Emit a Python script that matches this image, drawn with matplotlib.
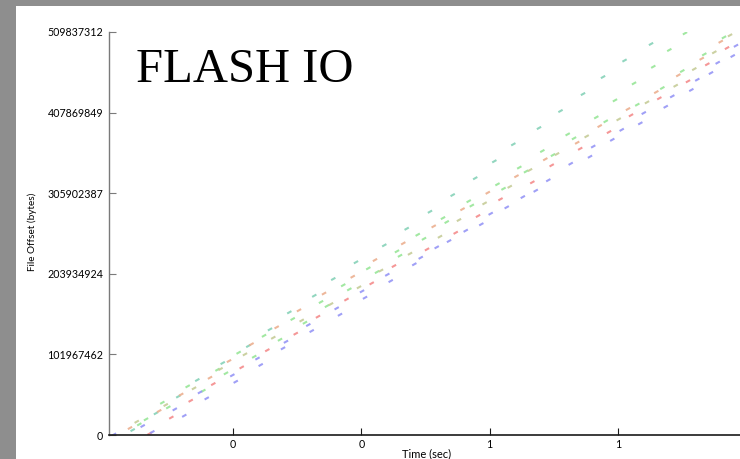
import numpy as np
import matplotlib
matplotlib.use("Agg")
import matplotlib.pyplot as plt
from matplotlib.collections import LineCollection
from matplotlib.patches import Rectangle

# ---------------- data (time in s, file offset in bytes) ----------------
teal_t = [0.8514, 0.8101, 0.7766, 0.7454, 0.7103, 0.6768, 0.6368, 0.6072, 0.5774, 0.5423,
          0.5069, 0.4706, 0.4357, 0.3916, 0.3562, 0.3266, 0.2877, 0.2576, 0.2238, 0.1839,
          0.1443, 0.1147, 0.0799, 0.0436]
teal_off = [494.7e6, 473.8e6, 452.9e6, 431.4e6, 409.9e6, 388.4e6, 367.8e6, 346.3e6, 324.9e6, 303.6e6,
            282.5e6, 261.0e6, 240.0e6, 218.6e6, 197.4e6, 176.2e6, 155.2e6, 133.7e6, 112.6e6, 91.1e6,
            69.6e6, 48.7e6, 27.5e6, 6.3e6]

green_t = [0.9043, 0.9651, 0.8799, 0.9344, 0.8549, 0.9001, 0.8249, 0.8690, 0.7952, 0.8300,
           0.7661, 0.7808, 0.7215, 0.7314, 0.6820, 0.6986, 0.6461, 0.6566, 0.6121, 0.6215,
           0.5673, 0.5721, 0.5272, 0.5330, 0.4878, 0.4976, 0.4555, 0.4602, 0.4108, 0.4244,
           0.3717, 0.3812, 0.3371, 0.3464, 0.2930, 0.3121, 0.2483, 0.2732, 0.2087, 0.2330,
           0.1758, 0.1890, 0.1293, 0.1537, 0.0898, 0.0991, 0.0644, 0.0539]
green_off = [508.2e6, 503.1e6, 487.1e6, 481.6e6, 465.9e6, 460.5e6, 444.9e6, 439.0e6, 423.4e6, 417.9e6,
             401.9e6, 396.9e6, 380.4e6, 375.4e6, 359.3e6, 354.2e6, 338.4e6, 333.4e6, 317.2e6, 311.6e6,
             295.8e6, 290.3e6, 274.5e6, 269.5e6, 253.4e6, 248.3e6, 232.4e6, 226.8e6, 210.9e6, 206.2e6,
             189.5e6, 184.3e6, 168.3e6, 163.2e6, 146.8e6, 142.1e6, 125.6e6, 120.6e6, 104.2e6, 99.1e6,
             82.6e6, 78.1e6, 61.6e6, 56.0e6, 40.9e6, 35.0e6, 19.9e6, 13.5e6]

olive_t = [0.9745, 0.9500, 0.9188, 0.8898, 0.8451, 0.8010, 0.7511, 0.7049, 0.6628, 0.6312,
           0.5920, 0.5521, 0.5225, 0.4758, 0.4306, 0.3963, 0.3527, 0.3070, 0.2627, 0.2186,
           0.1805, 0.1392, 0.0951, 0.0499]
olive_off = [505.7e6, 484.2e6, 463.0e6, 441.9e6, 420.9e6, 399.4e6, 377.9e6, 355.5e6, 335.3e6, 314.1e6,
             293.1e6, 272.0e6, 250.9e6, 229.4e6, 208.1e6, 186.9e6, 165.7e6, 144.9e6, 123.1e6, 102.1e6,
             83.5e6, 59.1e6, 38.0e6, 16.8e6]

orange_t = [0.9600, 0.9304, 0.8939, 0.8596, 0.8155, 0.7714, 0.7363, 0.6866, 0.6417, 0.5970,
            0.5576, 0.5127, 0.4653, 0.4212, 0.3865, 0.3418, 0.3028, 0.2680, 0.2288, 0.1937,
            0.1641, 0.1192, 0.0849, 0.0394]
orange_off = [497.6e6, 476.1e6, 455.1e6, 433.9e6, 412.4e6, 390.9e6, 369.8e6, 348.9e6, 327.4e6, 306.5e6,
              285.7e6, 264.0e6, 242.5e6, 221.4e6, 200.3e6, 179.0e6, 157.8e6, 136.3e6, 114.9e6, 93.6e6,
              72.5e6, 51.2e6, 30.4e6, 8.9e6]

red_t = [0.9698, 0.9391, 0.9090, 0.8643, 0.8202, 0.7859, 0.7410, 0.6966, 0.6664, 0.6168,
         0.5818, 0.5470, 0.5023, 0.4508, 0.4161, 0.3768, 0.3324, 0.2977, 0.2534, 0.2135,
         0.1692, 0.1340, 0.1038, 0.0700]
red_off = [489.6e6, 469.0e6, 447.5e6, 426.0e6, 404.5e6, 383.3e6, 362.2e6, 341.2e6, 319.7e6, 298.3e6,
           277.1e6, 255.9e6, 234.9e6, 213.8e6, 191.9e6, 171.4e6, 149.7e6, 128.2e6, 107.3e6, 85.6e6,
           64.5e6, 43.4e6, 22.1e6, 1.8e6]

blue_t = [0.9838, 0.9787, 0.9553, 0.9448, 0.9235, 0.9142, 0.8845, 0.8743, 0.8401, 0.8347,
          0.8057, 0.7910, 0.7613, 0.7563, 0.7262, 0.6913, 0.6717, 0.6516, 0.6265, 0.6015,
          0.5869, 0.5626, 0.5366, 0.5174, 0.4925, 0.4825, 0.4404, 0.4457, 0.4010, 0.4057,
          0.3615, 0.3667, 0.3173, 0.3226, 0.2825, 0.2779, 0.2381, 0.2431, 0.1989, 0.2042,
          0.1485, 0.1590, 0.1092, 0.1240, 0.0592, 0.0742, 0.0145]
blue_off = [492.5e6, 479.5e6, 471.0e6, 458.0e6, 449.5e6, 436.5e6, 428.5e6, 415.3e6, 407.4e6, 394.3e6,
            386.1e6, 373.5e6, 365.0e6, 352.1e6, 343.2e6, 322.3e6, 309.1e6, 301.1e6, 288.1e6, 280.0e6,
            266.6e6, 258.5e6, 245.4e6, 237.5e6, 224.3e6, 216.0e6, 202.8e6, 194.8e6, 181.8e6, 173.7e6,
            160.3e6, 152.2e6, 139.2e6, 131.6e6, 118.0e6, 109.7e6, 96.8e6, 88.6e6, 75.5e6, 67.4e6,
            54.0e6, 46.4e6, 32.5e6, 24.4e6, 11.4e6, 3.8e6, 0.6e6]

y_ticks = [0, 101967462, 203934924, 305902387, 407869849, 509837312]
y_tick_labels = ["0", "101967462", "203934924", "305902387", "407869849", "509837312"]
x_ticks = [0.2, 0.4, 0.6, 0.8]
x_tick_labels = ["0", "0", "1", "1"]

series = [
    (teal_t, teal_off, "#86d2b8"),
    (green_t, green_off, "#98e698"),
    (olive_t, olive_off, "#c6cc98"),
    (orange_t, orange_off, "#ecb090"),
    (red_t, red_off, "#f48c8c"),
    (blue_t, blue_off, "#9696f6"),
]

# ---------------- style ----------------
DASH_DT = 0.0066      # visual length of a dash (s)
DASH_DOFF = 3.0e6     # visual rise of a dash (bytes)
W, H = 740, 459

fig = plt.figure(figsize=(W / 100, H / 100), dpi=100)
fig.patch.set_facecolor("#8e8e8e")
fig.add_artist(Rectangle((16 / W, 0), 1 - 16 / W, (H - 6) / H,
                         transform=fig.transFigure, facecolor="white",
                         edgecolor="none", zorder=0))

ax = fig.add_axes([109 / W, (H - 435) / H, 637 / W, 403 / H])
ax.set_facecolor("none")

for t, off, col in series:
    t = np.asarray(t)
    off = np.asarray(off)
    segs = np.stack([np.column_stack([t - DASH_DT / 2, off - DASH_DOFF / 2]),
                     np.column_stack([t + DASH_DT / 2, off + DASH_DOFF / 2])], axis=1)
    ax.add_collection(LineCollection(segs, colors=col, linewidths=1.5,
                                     capstyle="butt", alpha=0.9))

ax.set_xlim(0.0067, 0.9994)
ax.set_ylim(0, 509837312)

ax.spines["top"].set_visible(False)
ax.spines["right"].set_visible(False)
ax.spines["left"].set_color("#7a7a7a")
ax.spines["left"].set_linewidth(1.0)
ax.spines["bottom"].set_color("#1a1a1a")
ax.spines["bottom"].set_linewidth(1.2)

ax.set_yticks(y_ticks)
ax.set_yticklabels(y_tick_labels, fontfamily="Lato", fontsize=7.7)
ax.set_xticks(x_ticks)
ax.set_xticklabels(x_tick_labels, fontfamily="Lato", fontsize=7.7)
ax.tick_params(axis="y", direction="in", length=5, width=0.8, color="#7a7a7a", pad=4.3)
ax.tick_params(axis="x", direction="in", length=5, width=0.8, color="#1a1a1a", pad=3)

fig.text(427 / W, 1 - 454 / H, "Time (sec)", ha="center", va="center",
         fontfamily="Lato", fontsize=8)
fig.text(32 / W, 1 - 232 / H, "File Offset (bytes)", ha="center", va="center",
         rotation=90, fontfamily="Lato", fontsize=7.2)
fig.text(136 / W, 1 - 82 / H, "FLASH IO", ha="left", va="baseline",
         fontfamily="Liberation Serif", fontsize=35, color="black")

fig.savefig("out.png", dpi=100, facecolor=fig.get_facecolor())
